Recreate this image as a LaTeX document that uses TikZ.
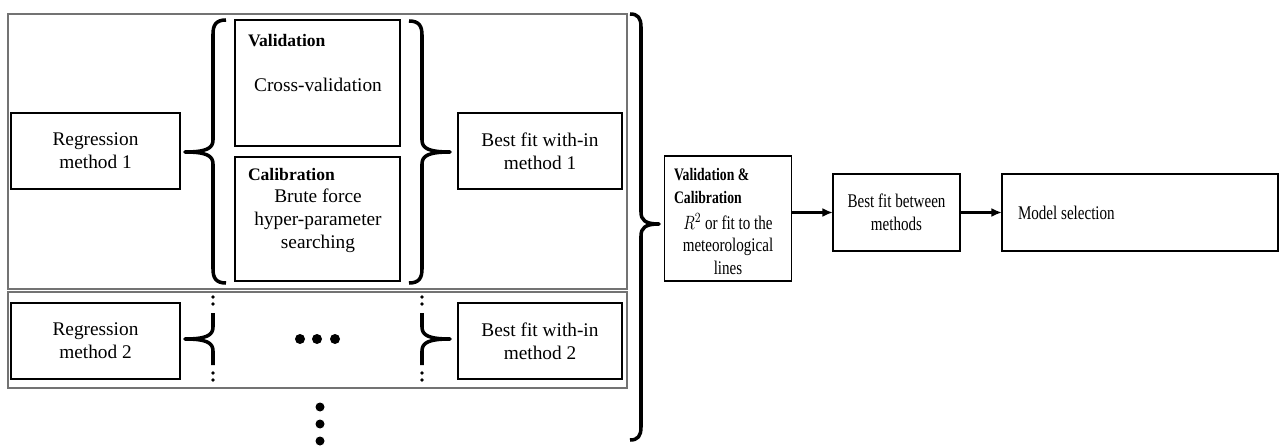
\documentclass[tikz,border=0pt]{standalone}
\usepackage{fontspec}
\usepackage{graphicx}
\setmainfont{Liberation Serif}
\newfontfamily\narrowserif[FakeStretch=0.78]{Liberation Serif}
\usetikzlibrary{arrows.meta}

\begin{document}
\begin{tikzpicture}[x=0.02cm,y=-0.02cm,inner sep=0pt,outer sep=0pt,
box/.style={draw,rectangle,line width=0.7pt,align=center,font=\fontsize{11}{13}\selectfont},
txt/.style={align=center,font=\fontsize{11}{13}\selectfont},
ntxt/.style={align=center,font=\narrowserif\fontsize{11}{13}\selectfont},
ttl/.style={align=left,font=\fontsize{10}{13}\selectfont\bfseries},
frm/.style={draw=black!55,rectangle,line width=0.8pt},
brc/.style={line width=2pt,line join=round},
dot/.style={fill,circle,minimum size=0.2cm},
arr/.style={-{Latex[length=6pt,width=5pt]},line width=1.2pt}]

\useasboundingbox (0,0) rectangle (1282,446);

% frames of the two rows
\node[frm,minimum width=12.38cm,minimum height=5.5cm] (row1) at (317.5,151.5) {};
\node[frm,minimum width=12.38cm,minimum height=1.92cm] (row2) at (317.5,340) {};

% row 1
\node[box,minimum width=3.38cm,minimum height=1.52cm] (reg1) at (95.5,151) {Regression\\method 1};
\node[box,minimum width=3.3cm,minimum height=2.52cm] (val) at (317.5,83) {};
\node[box,minimum width=3.3cm,minimum height=2.48cm] (cal) at (317.5,219) {};
\node[box,minimum width=3.28cm,minimum height=1.52cm] (bf1) at (540,151) {Best fit with-in\\method 1};

\node[ttl,anchor=base west] (valttl) at (248,47) {Validation};
\node[txt] (valtxt) at (318,85) {Cross-validation};
\node[ttl,anchor=base west] (calttl) at (248,180) {Calibration};
\node[txt] (caltxt) at (318,221) {Brute force\\hyper-parameter\\searching};

\draw[brc] (226,20) .. controls (216,20) and (213,25) .. (213,34) -- (213,140)
  .. controls (213,148) and (207,152) .. (185,152)
  .. controls (207,152) and (213,156) .. (213,164) -- (213,269)
  .. controls (213,278) and (216,283) .. (226,283);
\draw[brc] (409,21) .. controls (419,21) and (422,26) .. (422,35) -- (422,140)
  .. controls (422,148) and (428,152) .. (450,152)
  .. controls (428,152) and (422,156) .. (422,164) -- (422,269)
  .. controls (422,278) and (419,283) .. (409,283);

% row 2
\node[box,minimum width=3.38cm,minimum height=1.52cm] (reg2) at (95.5,341) {Regression\\method 2};
\node[box,minimum width=3.28cm,minimum height=1.52cm] (bf2) at (540,341) {Best fit with-in\\method 2};

\draw[brc] (213,313) -- (213,327) .. controls (213,335) and (207,339) .. (185,339)
  .. controls (207,339) and (213,343) .. (213,351) -- (213,365);
\draw[brc] (422,313) -- (422,327) .. controls (422,335) and (428,339) .. (450,339)
  .. controls (428,339) and (422,343) .. (422,351) -- (422,365);
\foreach \y in {297,304,373,380} {
  \fill (213,\y) circle (1.8);
  \fill (422,\y) circle (1.8);
}
\foreach \x [count=\i] in {300,317,335} \node[dot] (h\i) at (\x,339) {};
\foreach \y [count=\i] in {407,424,441} \node[dot,minimum size=0.18cm] (v\i) at (320,\y) {};

% big brace and the rest
\draw[brc] (630,14) .. controls (638,14) and (641,18) .. (641,27) -- (641,212)
  .. controls (641,220) and (645,224) .. (659,224)
  .. controls (645,224) and (641,228) .. (641,236) -- (641,427)
  .. controls (641,436) and (638,440) .. (630,440);

\node[box,minimum width=2.54cm,minimum height=2.5cm] (vc) at (728,218.5) {};
\node[ttl,font=\narrowserif\fontsize{10}{13}\selectfont\bfseries,anchor=west] (vcttl) at (674,186) {Validation \&\\Calibration};
\node[ntxt] (vctxt) at (728,244) {\scalebox{0.78}[1]{$R^2$} or fit to the\\meteorological\\lines};
\node[box,font=\narrowserif\fontsize{11}{13}\selectfont,minimum width=2.54cm,minimum height=1.54cm] (bfb) at (896.5,212.5) {Best fit between\\methods};
\node[box,minimum width=5.52cm,minimum height=1.54cm] (ms) at (1140,212.5) {};
\node[ntxt,anchor=west] (mstxt) at (1018,213) {Model selection};

\draw[arr] (bfb.west -| vc.east) -- (bfb.west);
\draw[arr] (bfb.east) -- (ms.west);
\end{tikzpicture}
\end{document}
